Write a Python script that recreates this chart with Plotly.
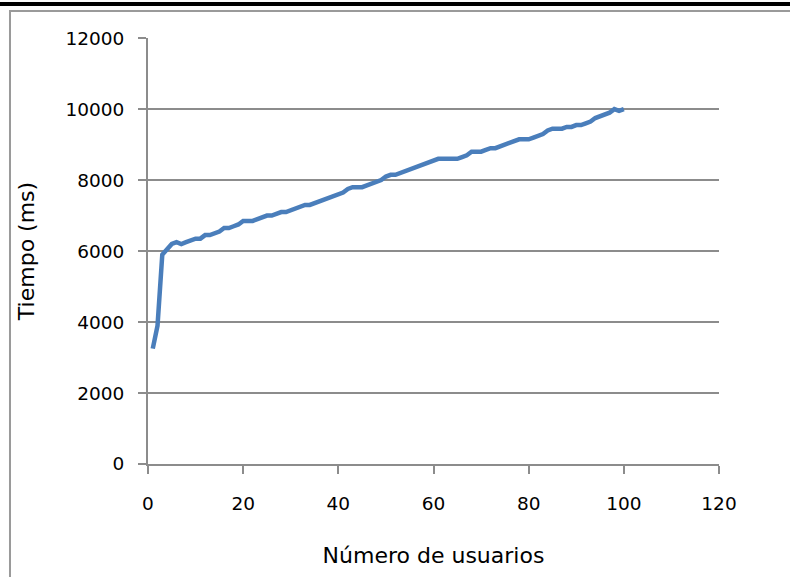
import plotly.graph_objects as go

# Número de usuarios concurrentes
usuarios = list(range(1, 101))

# Tiempo de respuesta (ms)
tiempo_ms = [
    3250, 3900, 5900, 6050, 6200, 6250, 6200, 6250, 6300, 6350,
    6350, 6450, 6450, 6500, 6550, 6650, 6650, 6700, 6750, 6850,
    6850, 6850, 6900, 6950, 7000, 7000, 7050, 7100, 7100, 7150,
    7200, 7250, 7300, 7300, 7350, 7400, 7450, 7500, 7550, 7600,
    7650, 7750, 7800, 7800, 7800, 7850, 7900, 7950, 8000, 8100,
    8150, 8150, 8200, 8250, 8300, 8350, 8400, 8450, 8500, 8550,
    8600, 8600, 8600, 8600, 8600, 8650, 8700, 8800, 8800, 8800,
    8850, 8900, 8900, 8950, 9000, 9050, 9100, 9150, 9150, 9150,
    9200, 9250, 9300, 9400, 9450, 9450, 9450, 9500, 9500, 9550,
    9550, 9600, 9650, 9750, 9800, 9850, 9900, 10000, 9950, 10000,
]

x_ticks = [0, 20, 40, 60, 80, 100, 120]
y_ticks = [0, 2000, 4000, 6000, 8000, 10000, 12000]

GRIS = "#8c8c8c"
FUENTE = dict(family="DejaVu Sans", size=18.5, color="#000000")

fig = go.Figure()

fig.add_trace(
    go.Scatter(
        x=usuarios,
        y=tiempo_ms,
        mode="lines",
        line=dict(color="#4a7ebb", width=4.5),
        showlegend=False,
    )
)

# Marco gris del gráfico y línea negra superior
fig.add_shape(
    type="rect", xref="paper", yref="paper",
    x0=-0.2417, x1=1.15, y0=-0.30, y1=1.0634,
    line=dict(color="#9a9a9a", width=2), fillcolor="rgba(0,0,0,0)",
)
fig.add_shape(
    type="line", xref="paper", yref="paper",
    x0=-0.3, x1=1.2, y0=1.0798, y1=1.0798,
    line=dict(color="#000000", width=4),
)

fig.update_layout(
    width=790,
    height=577,
    margin=dict(l=148, r=71, t=38, b=113),
    paper_bgcolor="white",
    plot_bgcolor="white",
    font=FUENTE,
)

fig.update_xaxes(
    range=[0, 120],
    tickvals=x_ticks,
    tickformat="d",
    showgrid=False,
    zeroline=False,
    showline=True,
    linecolor=GRIS,
    linewidth=2,
    ticks="outside",
    ticklen=8,
    tickwidth=2,
    tickcolor=GRIS,
    ticklabelstandoff=14,
    title=dict(text="Número de usuarios", standoff=34),
)

fig.update_yaxes(
    range=[0, 12005],
    tickvals=y_ticks,
    tickformat="d",
    showgrid=True,
    gridcolor=GRIS,
    gridwidth=2,
    zeroline=False,
    showline=True,
    linecolor=GRIS,
    linewidth=2,
    ticks="outside",
    ticklen=8,
    tickwidth=2,
    tickcolor=GRIS,
    ticklabelstandoff=10,
    title=dict(text="Tiempo (ms)", standoff=25),
)

# la página trae un margen de 8px en el body; se quita para que la figura quede en (0, 0)
fig.write_html(
    "out.html",
    config={"displayModeBar": False},
    post_script="document.body.style.margin='0';",
)
